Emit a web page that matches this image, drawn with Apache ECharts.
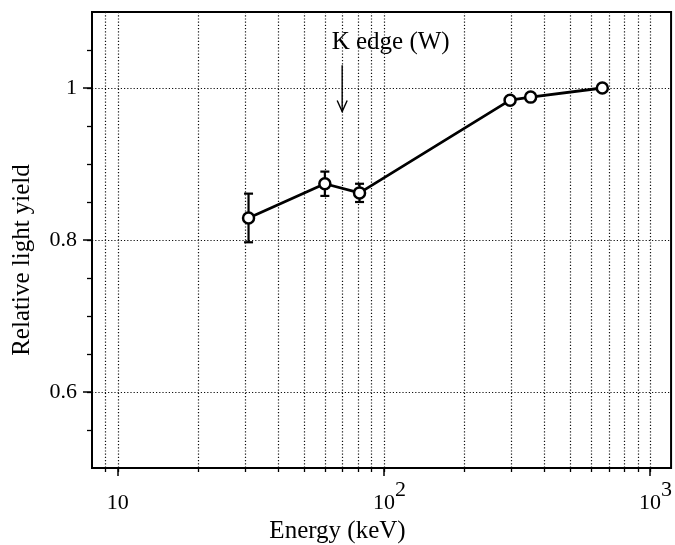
<!DOCTYPE html>
<html>
<head>
<meta charset="utf-8">
<script src="https://cdn.jsdelivr.net/npm/echarts@6/dist/echarts.min.js"></script>
<style>
  html, body { margin: 0; padding: 0; background: #fff; }
  #chart { width: 675px; height: 545px; }
</style>
</head>
<body>
<div id="chart"></div>
<script>
// measured points (keV, relative light yield)
const energy = [31, 60, 81, 298, 356, 662]
const lightYield = [0.829, 0.874, 0.862, 0.984, 0.988, 1.0]
const errLow = [0.797, 0.858, 0.850, null, null, null]
const errHigh = [0.861, 0.890, 0.874, null, null, null]

// axis ticks
const xMajorTicks = [10, 100, 1000]
const xMinorTicks = [9, 10, 20, 30, 40, 50, 60, 70, 80, 90, 100,
  200, 300, 400, 500, 600, 700, 800, 900, 1000]
const yMajorTicks = [0.6, 0.8, 1.0]
const yMinorTicks = [0.55, 0.6, 0.65, 0.7, 0.75, 0.8, 0.85, 0.9, 0.95, 1.0, 1.05]

// annotation: K edge of W, arrow top/tip and label position
const kEdge = [69.7, 1.030, 0.969]
const kEdgeLabel = [106, 1.060, 'K edge (W)']

const serif = 'Liberation Serif'
const black = '#000'
const gridDots = { color: '#111', width: 1.2, type: [1.2, 2] }

const chart = echarts.init(document.getElementById('chart'))

const option = {
  animation: false,
  backgroundColor: '#fff',
  grid: {
    left: 92, right: 3, top: 12, bottom: 77,
    show: true, borderColor: black, borderWidth: 2
  },
  xAxis: [
    {
      type: 'log', logBase: 10, min: 8, max: 1200, position: 'bottom',
      axisLine: { show: true, lineStyle: { color: black, width: 2 } },
      axisTick: { show: true, customValues: xMinorTicks, length: 4, lineStyle: { color: black, width: 1.3 } },
      axisLabel: { show: false },
      splitLine: { show: true, lineStyle: gridDots }
    },
    {
      type: 'log', logBase: 10, min: 8, max: 1200, position: 'bottom',
      axisLine: { show: false },
      axisTick: { show: true, customValues: xMajorTicks, length: 8, lineStyle: { color: black, width: 1.5 } },
      axisLabel: {
        customValues: xMajorTicks,
        verticalAlign: 'bottom',
        margin: 46,
        formatter: v => {
          const p = Math.round(Math.log10(v))
          return p === 1 ? '{b|10}' : '{bp|10}{sup|' + p + '}'
        },
        rich: {
          b: { fontFamily: serif, fontSize: 22, color: black, lineHeight: 22, verticalAlign: 'bottom' },
          bp: { fontFamily: serif, fontSize: 22, color: black, lineHeight: 22, verticalAlign: 'bottom', padding: [0, 0, 0, 11] },
          sup: { fontFamily: serif, fontSize: 22, color: black, lineHeight: 22, verticalAlign: 'bottom', padding: [0, 0, 13, 0] }
        }
      },
      splitLine: { show: false }
    }
  ],
  yAxis: [
    {
      type: 'value', min: 0.5, max: 1.1, position: 'left',
      axisLine: { show: true, lineStyle: { color: black, width: 2 } },
      axisTick: { show: true, customValues: yMinorTicks, length: 5, lineStyle: { color: black, width: 1.3 } },
      axisLabel: { show: false },
      splitLine: { show: false }
    },
    {
      type: 'value', min: 0.5, max: 1.1, position: 'left',
      axisLine: { show: false },
      axisTick: { show: true, customValues: yMajorTicks, length: 9, lineStyle: { color: black, width: 1.5 } },
      axisLabel: {
        customValues: yMajorTicks,
        margin: 15,
        fontFamily: serif, fontSize: 22, color: black,
        formatter: v => String(+v.toFixed(2))
      },
      splitLine: { show: true, lineStyle: gridDots }
    }
  ],
  graphic: [
    {
      type: 'text', left: 'center', x: -6, top: 519,
      style: { text: 'Energy (keV)', font: '25px "Liberation Serif"', fill: black }
    },
    {
      type: 'text', x: 10, y: 260, rotation: Math.PI / 2,
      style: { text: 'Relative light yield', font: '25px "Liberation Serif"', fill: black, align: 'center', verticalAlign: 'top' }
    }
  ],
  series: [
    {
      type: 'custom',
      xAxisIndex: 0, yAxisIndex: 0,
      z: 1,
      data: energy.map((e, i) => [e, errLow[i], errHigh[i]]).filter(d => d[1] != null),
      encode: { x: 0, y: [1, 2] },
      renderItem: (params, api) => {
        const lo = api.coord([api.value(0), api.value(1)])
        const hi = api.coord([api.value(0), api.value(2)])
        const w = 4.5
        const st = { stroke: black, lineWidth: 2.2 }
        return {
          type: 'group',
          children: [
            { type: 'line', shape: { x1: lo[0], y1: lo[1], x2: hi[0], y2: hi[1] }, style: st },
            { type: 'line', shape: { x1: lo[0] - w, y1: lo[1], x2: lo[0] + w, y2: lo[1] }, style: st },
            { type: 'line', shape: { x1: hi[0] - w, y1: hi[1], x2: hi[0] + w, y2: hi[1] }, style: st }
          ]
        }
      }
    },
    {
      type: 'line',
      xAxisIndex: 0, yAxisIndex: 0,
      z: 3,
      data: energy.map((e, i) => [e, lightYield[i]]),
      symbol: 'circle',
      symbolSize: 11,
      itemStyle: { color: '#fff', borderColor: black, borderWidth: 2.5 },
      lineStyle: { color: black, width: 2.8 }
    },
    {
      type: 'custom',
      xAxisIndex: 0, yAxisIndex: 0,
      z: 4,
      data: [[kEdge[0], kEdge[1], kEdge[2], kEdgeLabel[0], kEdgeLabel[1]]],
      encode: { x: [0, 3], y: [1, 2, 4] },
      renderItem: (params, api) => {
        const top = api.coord([api.value(0), api.value(1)])
        const tip = api.coord([api.value(0), api.value(2)])
        const lab = api.coord([api.value(3), api.value(4)])
        const st = { stroke: black, lineWidth: 1.4, fill: null }
        return {
          type: 'group',
          children: [
            { type: 'line', shape: { x1: top[0], y1: top[1], x2: tip[0], y2: tip[1] }, style: st },
            { type: 'polyline', shape: { points: [[tip[0] - 5, tip[1] - 11], [tip[0], tip[1]], [tip[0] + 5, tip[1] - 11]] }, style: st },
            {
              type: 'text', x: lab[0], y: lab[1],
              style: { text: kEdgeLabel[2], font: '25px "Liberation Serif"', fill: black, align: 'center', verticalAlign: 'middle' }
            }
          ]
        }
      }
    }
  ]
}

chart.setOption(option)
window.addEventListener('resize', () => chart.resize())
</script>
</body>
</html>
